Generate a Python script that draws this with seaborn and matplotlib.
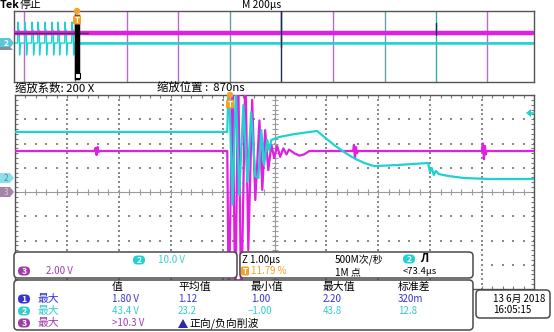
import numpy as np
import pandas as pd
import matplotlib
matplotlib.use("Agg")
import matplotlib.pyplot as plt
import seaborn as sns
from matplotlib.patches import FancyBboxPatch, Polygon, Rectangle, Circle

# ---------------- data ----------------
# zoomed window, time relative to trigger (µs)
ch2_t = [-4.14, -0.04, -0.01, 0.06, 0.125, 0.19, 0.27, 0.35, 0.42, 0.50, 0.56, 0.615, 0.67,
         0.73, 0.77, 0.81, 0.96, 1.25, 1.69, 1.83, 2.02, 2.21, 2.40, 2.60, 2.79, 3.27, 3.83,
         3.865, 3.90, 3.94, 3.98, 4.04, 4.23, 4.52, 5.0, 5.86]
ch2_v = [19.0, 19.0, 43.0, -11.1, 36.0, -7.0, 30.1, -1.6, 27.2, 0.8, 0.0, 19.8, 5.4,
         15.7, 11.5, 15.7, 16.9, 18.1, 19.4, 16.9, 13.6, 10.7, 8.2, 6.2, 4.9, 5.4, 6.2,
         2.5, 4.1, 1.2, 2.9, 1.6, 0.8, 0.0, -0.4, -0.4]
ch3_t = [-4.14, -2.60, -2.58, -2.56, -2.54, -2.52, -2.50, -0.04, -0.01, 0.06, 0.115, 0.17,
         0.23, 0.31, 0.365, 0.44, 0.50, 0.58, 0.635, 0.69, 0.75, 0.81, 0.865, 0.92, 0.98,
         1.04, 1.10, 1.15, 1.25, 1.35, 1.44, 1.54, 2.385, 2.40, 2.42, 2.44, 2.46, 2.48,
         4.865, 4.885, 4.905, 4.925, 4.94, 4.96, 5.86]
ch3_v = [3.38, 3.38, 3.63, 3.05, 3.71, 3.30, 3.38, 3.38, -10.0, 10.3, -10.0, 10.3,
         -10.0, 10.3, -4.8, 7.6, -0.66, 5.9, 0.17, 5.1, 1.8, 3.9, 2.8, 3.8, 2.9,
         3.6, 3.1, 3.5, 3.2, 3.0, 3.1, 3.38, 3.38, 3.88, 2.8, 3.7, 3.2, 3.38,
         3.38, 4.0, 2.7, 3.8, 3.1, 3.38, 3.38]

ch2_scale, ch3_scale = 10.0, 2.00          # V/div
ch2_ground, ch3_ground = 0.577, 0.0        # div
zoom_center = 0.87                         # µs

# overview record (µs from trigger), levels in divisions
ov_pulse_t = [-227, -200, -173, -150, -123, -96, -73, -46, -19]
ov_pulse_dt = [-1.0, 0.0, 1.5, 4.0, 5.5, 6.5, 8.0, 11.0]
ov_pulse_div = [0.39, 2.75, 1.9, 1.9, 1.52, -0.96, -0.2, 0.39]
ov_ch2_level = 0.39
ov_ch3_level = 1.52
ov_grid_t = [-204, -6, 192, 390, 588, 786, 985, 1183, 1381, 1579]
ov_grid_col = ['#b86cc8', '#b86cc8', '#b86cc8', '#b86cc8', '#6a9aa8', '#1a2a5a',
               '#b86cc8', '#6aa0a8', '#3aa8a8', '#b86cc8']

meas_header = ['值', '平均值', '最小值', '最大值', '标准差']
meas_rows = [['1.80 V', '1.12', '1.00', '2.20', '320m'],
             ['43.4 V', '23.2', '−1.00', '43.8', '12.8']]
meas_row3 = '>10.3 V'

# ---------------- style ----------------
sns.set_theme(style="white")
plt.rcParams['font.family'] = ['Noto Sans CJK SC', 'DejaVu Sans']

W, H = 554, 332
CYAN = '#1ed2d2'
MAG = '#e020e0'
PURP = '#a03ca8'
BLUE = '#3434d0'
ORANGE = '#f2a22a'
GRID = '#8a8a8a'
BORDER = '#555555'

fig = plt.figure(figsize=(W / 100, H / 100), dpi=100)
fig.patch.set_facecolor('white')


def rect(x0, y0, x1, y1):
    return [x0 / W, 1 - y1 / H, (x1 - x0) / W, (y1 - y0) / H]


# ---------------- overview ----------------
ax_ov = fig.add_axes(rect(14, 11, 534, 82))
ov_x0, ov_x1 = -242, 1758
ax_ov.set_xlim(ov_x0, ov_x1)
ax_ov.set_ylim(-4, 4)
for t, c in zip(ov_grid_t, ov_grid_col):
    ax_ov.axvline(t, color=c, lw=1.0, zorder=1)

ov_t3 = [ov_x0, ov_x1]
ov_v3 = [ov_ch3_level, ov_ch3_level]
sns.lineplot(x=ov_t3, y=ov_v3, ax=ax_ov, color=MAG, lw=3.2, estimator=None, sort=False, zorder=3)
ax_ov.plot([ov_x0, 42], [ov_ch3_level, ov_ch3_level], color='#5a2a6a', lw=1.0, zorder=4)

ov_t2, ov_v2 = [ov_x0], [ov_ch2_level]
for p in ov_pulse_t:
    for dt, v in zip(ov_pulse_dt, ov_pulse_div):
        ov_t2.append(p + dt)
        ov_v2.append(v)
ov_t2.append(ov_x1)
ov_v2.append(ov_ch2_level)
sns.lineplot(x=ov_t2, y=ov_v2, ax=ax_ov, color=CYAN, lw=1.0, estimator=None, sort=False, zorder=2)
ax_ov.plot([-19 + 11, ov_x1], [ov_ch2_level, ov_ch2_level], color=CYAN, lw=1.8, zorder=2)

# dark glitch marks
ax_ov.plot([786, 786], [0.0, 4.0], color='#1a2a5a', lw=1.0, zorder=5)
ax_ov.plot([1381, 1381], [1.3, 2.7], color='#1a2a5a', lw=1.0, zorder=5)
# zoom window bar
ax_ov.axvspan(-4.13, 5.87, ymin=0.06, ymax=0.93, color='black', lw=2.5, zorder=6)
ax_ov.set_xticks([])
ax_ov.set_yticks([])
for s in ax_ov.spines.values():
    s.set_color(BORDER)
    s.set_linewidth(1.0)

# ---------------- main zoom window ----------------
ax = fig.add_axes(rect(15, 95, 534, 289))
xl, xr = zoom_center - 5, zoom_center + 5
ax.set_xlim(xl, xr)
ax.set_ylim(-4, 4)
ax.set_xticks([])
ax.set_yticks([])
for s in ax.spines.values():
    s.set_color(BORDER)
    s.set_linewidth(1.0)

# dotted graticule
hx, hy = [], []
for gy in [-3, -2, -1, 1, 2, 3]:
    for i in range(51):
        hx.append(xl + i * 0.2)
        hy.append(gy)
for k in [1, 2, 3, 4, 6, 7, 8, 9]:
    for j in range(41):
        hx.append(xl + k)
        hy.append(-4 + j * 0.2)
ax.scatter(hx, hy, s=0.9, marker='s', color=GRID, linewidths=0, zorder=1)
# centre cross with ticks
ax.axhline(0, color='#9a9a9a', lw=0.8, zorder=1)
ax.axvline(zoom_center, color='#9a9a9a', lw=0.8, zorder=1)
tx = [xl + i * 0.2 for i in range(51)]
ty = [-4 + j * 0.2 for j in range(41)]
ax.plot(tx, [0] * len(tx), ls='none', marker='|', ms=4.5, mew=0.8, color='#9a9a9a', zorder=1)
ax.plot([zoom_center] * len(ty), ty, ls='none', marker='_', ms=4.5, mew=0.8, color='#9a9a9a', zorder=1)
# border ticks
ax.plot(tx, [4] * len(tx), ls='none', marker='|', ms=5, mew=0.8, color='#777777', zorder=1)
ax.plot(tx, [-4] * len(tx), ls='none', marker='|', ms=5, mew=0.8, color='#777777', zorder=1)
ax.plot([xl] * len(ty), ty, ls='none', marker='_', ms=5, mew=0.8, color='#777777', zorder=1)
ax.plot([xr] * len(ty), ty, ls='none', marker='_', ms=5, mew=0.8, color='#777777', zorder=1)

df3 = pd.DataFrame({'t': ch3_t, 'div': [v / ch3_scale + ch3_ground for v in ch3_v]})
df2 = pd.DataFrame({'t': ch2_t, 'div': [v / ch2_scale + ch2_ground for v in ch2_v]})
sns.lineplot(data=df3, x='t', y='div', ax=ax, color=MAG, lw=1.6, estimator=None, sort=False, zorder=3)
sns.lineplot(data=df2, x='t', y='div', ax=ax, color=CYAN, lw=1.6, estimator=None, sort=False, zorder=4)
ax.set_xlabel('')
ax.set_ylabel('')

# ---------------- overlay (pixel coordinates) ----------------
ov = fig.add_axes([0, 0, 1, 1], zorder=10)
ov.set_xlim(0, W)
ov.set_ylim(H, 0)
ov.axis('off')

FS = 7.2


def txt(x, y, s, color='black', size=FS, weight='normal', ha='left'):
    ov.text(x, y, s, color=color, fontsize=size, fontweight=weight, ha=ha, va='center')


def box(x0, y0, x1, y1, r=4, lw=1.1):
    ov.add_patch(FancyBboxPatch((x0, y0), x1 - x0, y1 - y0,
                                boxstyle=f"round,pad=0,rounding_size={r}",
                                fc='white', ec='#4a4a4a', lw=lw))


def pill(cx, cy, label, color, w=12, h=9):
    ov.add_patch(FancyBboxPatch((cx - w / 2, cy - h / 2), w, h,
                                boxstyle=f"round,pad=0,rounding_size={h / 2}",
                                fc=color, ec='none'))
    ov.text(cx, cy + 0.3, label, color='white', fontsize=6.2, fontweight='bold',
            ha='center', va='center')


def tbox(cx, cy):
    ov.add_patch(FancyBboxPatch((cx - 4, cy - 4.5), 8, 9, boxstyle="round,pad=0,rounding_size=1.5",
                                fc=ORANGE, ec='none'))
    ov.text(cx, cy + 0.3, 'T', color='white', fontsize=5.5, fontweight='bold', ha='center', va='center')


# header
txt(0, 5, 'Tek', size=7.8, weight='bold')
txt(20, 5, '停止', size=7.8)
txt(242, 5, 'M 200µs', size=7.4)
txt(15, 88, '缩放系数: 200 X', size=8.2)
txt(157, 88, '缩放位置 :  870ns', size=8.2)

# trigger markers
ov.add_patch(Circle((77, 11), 3.2, fc=ORANGE, ec='none'))
tbox(77, 20)
ov.add_patch(Rectangle((74.5, 73), 5, 5, fc='white', ec='black', lw=0.8))
ov.add_patch(Circle((230, 95), 3.2, fc=ORANGE, ec='none'))
tbox(230, 104)
# channel tags
ov.add_patch(Polygon([[0, 38], [10, 38], [14, 43], [10, 48], [0, 48]], closed=True, fc='#58c8d8', ec='none'))
ov.add_patch(Polygon([[0, 47], [10, 47], [13, 50], [0, 50]], closed=True, fc='#8a8a9a', ec='none'))
ov.text(6, 43.3, '2', color='white', fontsize=6, ha='center', va='center', fontweight='bold')
ov.add_patch(Polygon([[0, 173], [10, 173], [14, 178], [10, 183], [0, 183]], closed=True, fc='#8ce0ea', ec='none'))
ov.text(6, 178.3, '2', color='#5a8a9a', fontsize=6, ha='center', va='center')
ov.add_patch(Polygon([[0, 187], [10, 187], [14, 192], [10, 197], [0, 197]], closed=True, fc='#a484a8', ec='none'))
ov.text(6, 192.3, '3', color='#d8c8d8', fontsize=6, ha='center', va='center')
# trigger level marker
ov.add_patch(Polygon([[526, 113], [531, 109], [531, 117]], closed=True, fc=CYAN, ec='none'))
ov.plot([529, 534], [113, 113], color=CYAN, lw=1.2)

# readout boxes
box(14, 252, 237, 278)
box(240, 252, 473, 278)
box(14, 280, 473, 330)
box(476, 290, 550, 318)

pill(139, 260, '2', CYAN)
txt(158, 260, '10.0 V', color='#3ad0d0', size=7)
pill(24, 271, '3', PURP)
txt(46, 271, '2.00 V', color=PURP, size=7)

txt(242, 260, 'Z 1.00µs', size=7)
tbox(245, 271)
txt(251, 271, '11.79 %', color=ORANGE, size=7)
txt(335, 260, '500M次/秒', size=7.2)
txt(335, 272, '1M 点', size=7.2)
pill(409, 259, '2', CYAN)
txt(420, 259, 'Л', size=8, weight='bold')
txt(403, 272, '<73.4µs', size=6.8)

hx_pos = [112, 178, 251, 323, 398]
for x, s in zip(hx_pos, meas_header):
    txt(x, 287, s, size=7.8)
row_cols = [BLUE, '#36cccc']
for r, (vals, c, lab) in enumerate(zip(meas_rows, row_cols, ['1', '2'])):
    y = 299 + 12 * r
    pill(24, y, lab, c)
    txt(38, y, '最大', color=c, size=7.8)
    for x, s in zip(hx_pos, vals):
        txt(x - (3 if s.startswith('−') else 0), y, s, color=c, size=7)
pill(24, 323, '3', PURP)
txt(38, 323, '最大', color=PURP, size=7.8)
txt(112, 323, meas_row3, color=PURP, size=7)
ov.add_patch(Polygon([[178, 328], [183, 319], [188, 328]], closed=True, fc='#2a2ab0', ec='none'))
txt(189, 323, '正向/负向削波', size=7.8)

txt(493, 299, '13 6月 2018', size=7.0)
txt(493, 310, '16:05:15', size=7.0)

fig.savefig('out.png', dpi=100, facecolor='white')
